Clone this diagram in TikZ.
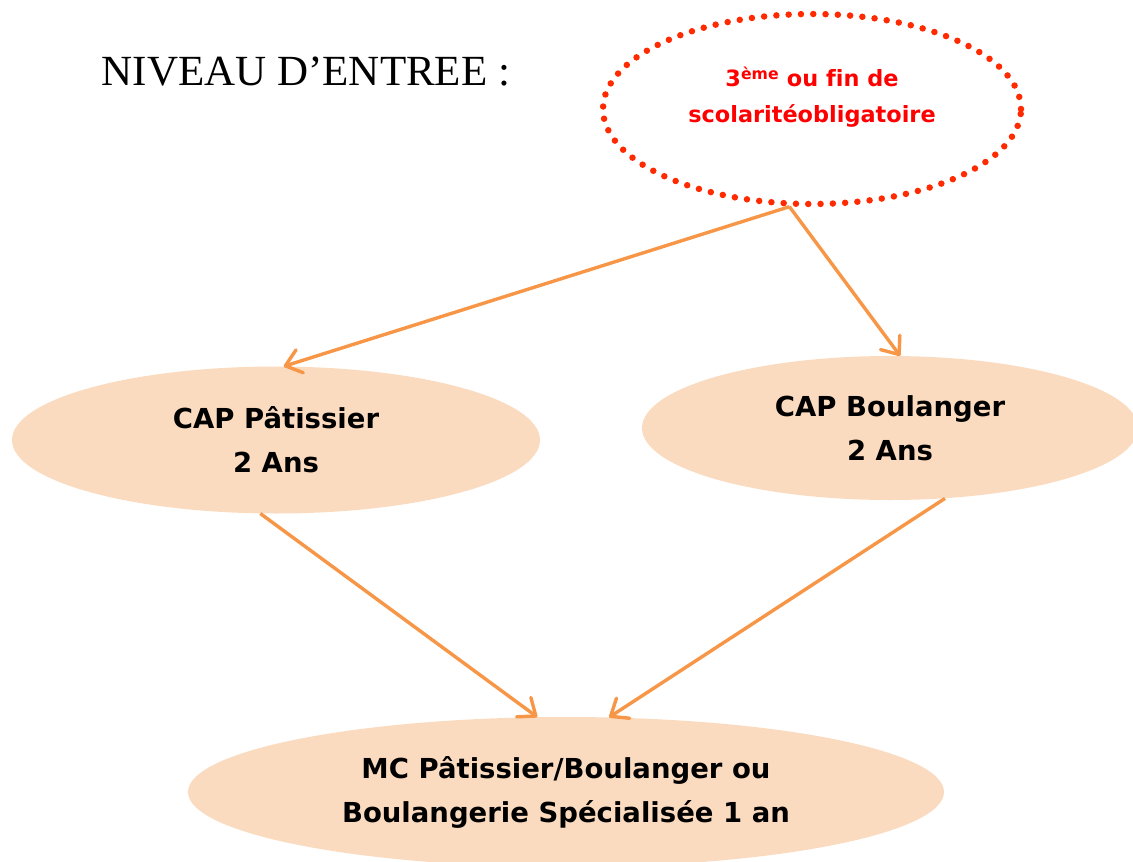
\documentclass[tikz,border=0pt]{standalone}
\usepackage{fontspec}
\setmainfont{Liberation Serif}
\newfontfamily\comic{DejaVu Sans}
\usepackage{tikz}
\usetikzlibrary{shapes.geometric,arrows.meta,positioning}

\definecolor{peach}{HTML}{FBDBC0}
\definecolor{arrorange}{HTML}{F79646}
\definecolor{dotred}{HTML}{FF2A00}

\begin{document}
\begin{tikzpicture}[x=1pt,y=-1pt,>={Straight Barb[length=15pt,width=24pt,round]},
    every edge/.style={draw=arrorange,line width=3.4pt},
    level/.style={ellipse,fill=peach,inner sep=0pt,align=center,
      font=\comic\bfseries\fontsize{27.5pt}{44pt}\selectfont},
    entry/.style={ellipse,draw=dotred,line width=6.5pt,line cap=round,
      dash pattern=on 0pt off 12.3pt,inner sep=0pt}]
    \useasboundingbox (0,0) rectangle (1133,862);

    \node at (306,72) {\fontsize{43pt}{50pt}\selectfont NIVEAU D’ENTREE :};

    \node[entry,minimum width=418pt,minimum height=190pt] (A) at (812,109) {};
    \node[text=red,align=center,font=\comic\bfseries\fontsize{22.4pt}{36pt}\selectfont]
      (At) at (812,97) {3\textsuperscript{ème} ou f\kern0pt in de\\ scolaritéobligatoire};

    \node[level,minimum width=528pt,minimum height=147pt] (B) at (276,440) {CAP Pâtissier\\ 2 Ans};
    \node[level,minimum width=496pt,minimum height=144pt] (C) at (890,428) {CAP Boulanger\\ 2 Ans};
    \node[level,minimum width=756pt,minimum height=150pt] (D) at (566,792)
      {MC Pâtissier/Boulanger ou\\ Boulangerie Spécialisée 1 an};

    % paths from entry level to the CAP
    \path[->]
    (A.257) edge node {} (B.84)
    (A.257) edge node {} (C.82);
    % paths from the CAP to the MC
    \path[->]
    (B.258) edge node {} (D.111)
    (C.308) edge node {} (D.60);

\end{tikzpicture}
\end{document}
